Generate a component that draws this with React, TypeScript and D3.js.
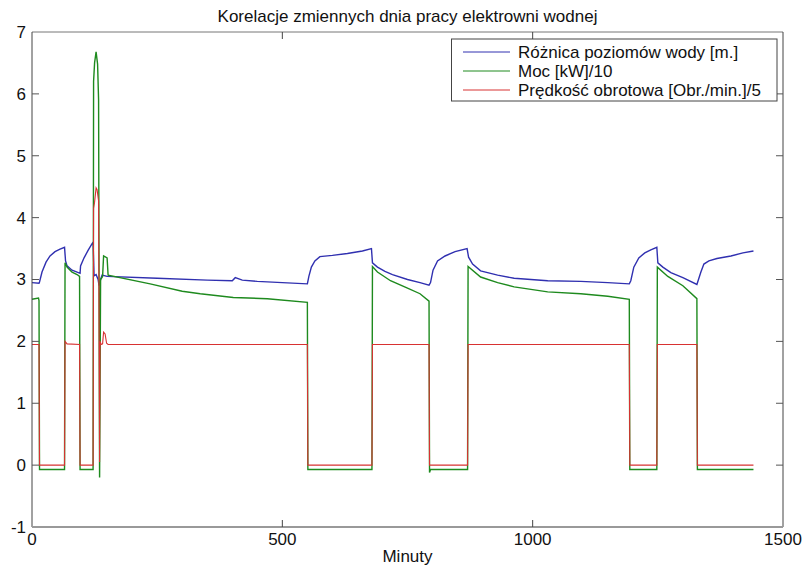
import React from 'react';
import * as d3 from 'd3';

const chartTitle = 'Korelacje zmiennych dnia pracy elektrowni wodnej';
const xAxisLabel = 'Minuty';
const xTickValues = [0, 500, 1000, 1500];
const yTickValues = [-1, 0, 1, 2, 3, 4, 5, 6, 7];
const seriesNames = [
  'Różnica poziomów wody [m.]',
  'Moc [kW]/10',
  'Prędkość obrotowa [Obr./min.]/5',
];
const seriesColors = ['#3030b0', '#1e8a1e', '#d83232'];

// [minute, value]
const levelDiff: [number, number][] = [
  [0, 2.95], [14, 2.94], [15, 2.96], [20, 3.12], [28, 3.28], [36, 3.38], [46, 3.45], [56, 3.49], [65, 3.52],
  [67, 3.3], [70, 3.22], [80, 3.15], [90, 3.12], [96, 3.1], [97, 3.22], [104, 3.35], [112, 3.47], [120, 3.58],
  [122, 3.6], [124, 3.06], [128, 3.08], [132, 3.0], [134, 2.9], [137, 3.0], [140, 3.07], [150, 3.05],
  [250, 3.02], [350, 2.99], [400, 2.98], [406, 3.03], [420, 2.99], [450, 2.97],
  [500, 2.95], [550, 2.93], [553, 3.05], [558, 3.2], [565, 3.3], [575, 3.37], [600, 3.39], [630, 3.42],
  [660, 3.46], [678, 3.5], [680, 3.27], [690, 3.2], [705, 3.13], [720, 3.08], [750, 3.0], [775, 2.95],
  [793, 2.91], [796, 2.95], [801, 3.15], [810, 3.3], [825, 3.38], [845, 3.45], [869, 3.5], [872, 3.36],
  [880, 3.25], [896, 3.14], [930, 3.07], [963, 3.02], [1030, 2.98], [1096, 2.97], [1150, 2.95], [1193, 2.93],
  [1196, 2.98], [1202, 3.2], [1212, 3.35], [1224, 3.43], [1236, 3.48], [1248, 3.52], [1250, 3.27], [1260, 3.2],
  [1276, 3.11], [1300, 3.03], [1328, 2.92], [1332, 3.02], [1336, 3.12], [1342, 3.25], [1352, 3.3],
  [1368, 3.34], [1396, 3.38], [1420, 3.43], [1441, 3.46],
];

const powerDiv10: [number, number][] = [
  [0, 2.68], [13, 2.7], [14, 2.66], [15, -0.07], [65, -0.07], [66, 3.27], [70, 3.2], [80, 3.12], [90, 3.08],
  [95, 3.05], [96, -0.07], [122, -0.07], [123, 6.2], [125, 6.5], [128, 6.68], [131, 6.48], [133, 5.9],
  [135, -0.2], [137, 3.0], [141, 3.05], [143, 3.38], [150, 3.35], [152, 3.07], [236, 2.93], [300, 2.81],
  [336, 2.77], [402, 2.71], [470, 2.69], [550, 2.63], [551, -0.07], [679, -0.07],
  [680, 3.21], [690, 3.12], [716, 2.98], [750, 2.86], [775, 2.77], [793, 2.65], [794, -0.12], [796, -0.07],
  [870, -0.07], [871, 3.21], [896, 3.04], [930, 2.95], [963, 2.88], [1030, 2.8], [1096, 2.77], [1150, 2.73],
  [1193, 2.68], [1194, -0.07], [1248, -0.07], [1249, 3.2], [1270, 3.05], [1300, 2.9], [1328, 2.69],
  [1329, -0.07], [1441, -0.07],
];

const speedDiv5: [number, number][] = [
  [0, 1.95], [14, 1.95], [15, 0], [65, 0], [66, 2.0], [70, 1.96], [95, 1.95], [96, 0], [122, 0], [123, 4.15],
  [125, 4.25], [128, 4.48], [130, 4.45], [133, 4.27], [135, 0.05], [136, 2.0], [138, 1.95], [141, 1.96],
  [143, 2.15], [146, 2.12], [149, 1.97], [152, 1.95], [550, 1.95], [551, 0], [679, 0], [680, 1.95],
  [793, 1.95], [794, 0], [870, 0], [871, 1.95], [1193, 1.95], [1194, 0], [1248, 0], [1249, 1.95],
  [1328, 1.95], [1329, 0], [1441, 0],
];

const seriesData = [levelDiff, powerDiv10, speedDiv5];
const seriesWidths = [1.4, 1.4, 1.1];

export default function App() {
  const W = 803;
  const H = 566;
  const left = 32, right = 783, top = 32, bottom = 527;
  const x = d3.scaleLinear().domain([0, 1500]).range([left, right]);
  const y = d3.scaleLinear().domain([-1, 7]).range([bottom, top]);
  const line = d3.line<[number, number]>().x(d => x(d[0])).y(d => y(d[1]));
  const font = 'Liberation Sans, Arial, sans-serif';
  const tickLen = 7;

  const legX = 451.5, legY = 39, legW = 325.5, legH = 62;
  const rowY = [52, 71, 90];

  return (
    <svg width={W} height={H} style={{ position: 'absolute', left: 0, top: 0, background: '#fff' }}
      fontFamily={font}>
      <rect x={0} y={0} width={W} height={H} fill="#fff" />
      <text x={(left + right) / 2} y={22} textAnchor="middle" fontSize={17} fill="#111">{chartTitle}</text>

      {seriesData.map((d, i) => (
        <path key={i} d={line(d) || ''} fill="none" stroke={seriesColors[i]} strokeWidth={seriesWidths[i]} />
      ))}

      {/* box */}
      <line x1={left} x2={right} y1={top} y2={top} stroke="#777" strokeWidth={1} />
      <line x1={right} x2={right} y1={top} y2={bottom} stroke="#444" strokeWidth={1} />
      <line x1={left} x2={left} y1={top} y2={bottom} stroke="#444" strokeWidth={1} />
      <line x1={left} x2={right} y1={bottom} y2={bottom} stroke="#999" strokeWidth={2} />

      {xTickValues.map(t => (
        <g key={'x' + t}>
          {t > 0 && t < 1500 && (
            <>
              <line x1={x(t)} x2={x(t)} y1={bottom} y2={bottom - tickLen} stroke="#444" />
              <line x1={x(t)} x2={x(t)} y1={top} y2={top + tickLen} stroke="#444" />
            </>
          )}
          <text x={x(t)} y={545} textAnchor="middle" fontSize={17} fill="#111">{t}</text>
        </g>
      ))}
      {yTickValues.map(t => (
        <g key={'y' + t}>
          {t > -1 && t < 7 && (
            <>
              <line x1={left} x2={left + tickLen} y1={y(t)} y2={y(t)} stroke="#555" />
              <line x1={right} x2={right - tickLen} y1={y(t)} y2={y(t)} stroke="#555" />
            </>
          )}
          <text x={26} y={y(t)} dy="0.35em" textAnchor="end" fontSize={17} fill="#111">{t}</text>
        </g>
      ))}
      <text x={(left + right) / 2} y={562} textAnchor="middle" fontSize={17} fill="#111">{xAxisLabel}</text>

      {/* legend */}
      <rect x={legX} y={legY} width={legW} height={legH} fill="#fff" stroke="#444" strokeWidth={1} />
      {seriesNames.map((n, i) => (
        <g key={n}>
          <line x1={463} x2={510} y1={rowY[i]} y2={rowY[i]} stroke={seriesColors[i]} strokeWidth={1} />
          <text x={518} y={rowY[i]} dy="0.35em" fontSize={17} fill="#111">{n}</text>
        </g>
      ))}
    </svg>
  );
}
